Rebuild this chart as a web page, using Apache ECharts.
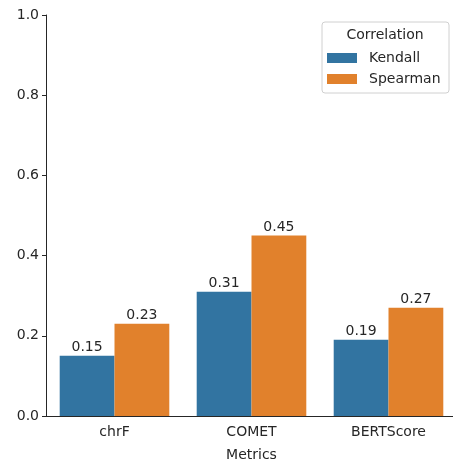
<html>
<head>
<meta charset="utf-8">
<script src="https://cdn.jsdelivr.net/npm/echarts@6/dist/echarts.min.js"></script>
</head>
<body style="margin:0;padding:0;background:#fff">
<div id="main" style="width:453px;height:459px;"></div>
<script type="text/javascript">
    var categories = ['chrF', 'COMET', 'BERTScore'];
    var kendall = [0.15, 0.31, 0.19];
    var spearman = [0.23, 0.45, 0.27];
    var yTicks = [0, 0.2, 0.4, 0.6, 0.8, 1.0];

    var font = 'DejaVu Sans';
    var ink = '#262626';
    var fs = 14;

    var myChart = echarts.init(document.getElementById('main'));

    function barLabel() {
        return {
            show: true,
            position: 'top',
            distance: 1,
            color: ink,
            fontFamily: font,
            fontSize: fs,
            formatter: function (p) { return p.value.toFixed(2); }
        };
    }

    var option = {
        animation: false,
        backgroundColor: '#fff',
        grid: { left: 46, top: 15, width: 411, height: 401, outerBoundsMode: 'none', containLabel: false },
        graphic: [
            {
                type: 'rect',
                shape: { x: 322, y: 22, width: 127, height: 71, r: 3 },
                style: { fill: 'rgba(255,255,255,0.8)', stroke: '#d0d0d0', lineWidth: 1 },
                z: 10
            },
            {
                type: 'text',
                x: 385, y: 35,
                style: { text: 'Correlation', fill: ink, font: fs + 'px "DejaVu Sans"', textAlign: 'center', textVerticalAlign: 'middle' },
                z: 11
            }
        ],
        legend: {
            orient: 'vertical',
            left: 322,
            top: 51,
            padding: [0, 5],
            itemWidth: 30,
            itemHeight: 10,
            itemGap: 7,
            icon: 'rect',
            z: 12,
            textStyle: { color: ink, fontFamily: font, fontSize: fs, padding: [0, 0, 0, 7] },
            data: ['Kendall', 'Spearman']
        },
        xAxis: {
            type: 'category',
            data: categories,
            name: 'Metrics',
            nameLocation: 'middle',
            nameGap: 32,
            nameTextStyle: { color: ink, fontFamily: font, fontSize: fs },
            axisLine: { lineStyle: { color: ink, width: 1 } },
            axisTick: { alignWithLabel: true, length: 4, lineStyle: { color: ink } },
            axisLabel: { color: ink, fontFamily: font, fontSize: fs, margin: 9 }
        },
        yAxis: {
            type: 'value',
            min: 0,
            max: 1.0,
            interval: 0.2,
            splitLine: { show: false },
            axisLine: { show: true, lineStyle: { color: ink, width: 1 } },
            axisTick: { show: true, length: 4, lineStyle: { color: ink } },
            axisLabel: {
                color: ink, fontFamily: font, fontSize: fs, margin: 7,
                formatter: function (v) { return v.toFixed(1); }
            }
        },
        series: [
            {
                name: 'Kendall',
                type: 'bar',
                data: kendall,
                barGap: '0%',
                barCategoryGap: '20%',
                itemStyle: { color: '#3274a1' },
                label: barLabel()
            },
            {
                name: 'Spearman',
                type: 'bar',
                data: spearman,
                barGap: '0%',
                barCategoryGap: '20%',
                itemStyle: { color: '#e1812c' },
                label: barLabel()
            }
        ]
    };

    myChart.setOption(option);
</script>
</body>
</html>
